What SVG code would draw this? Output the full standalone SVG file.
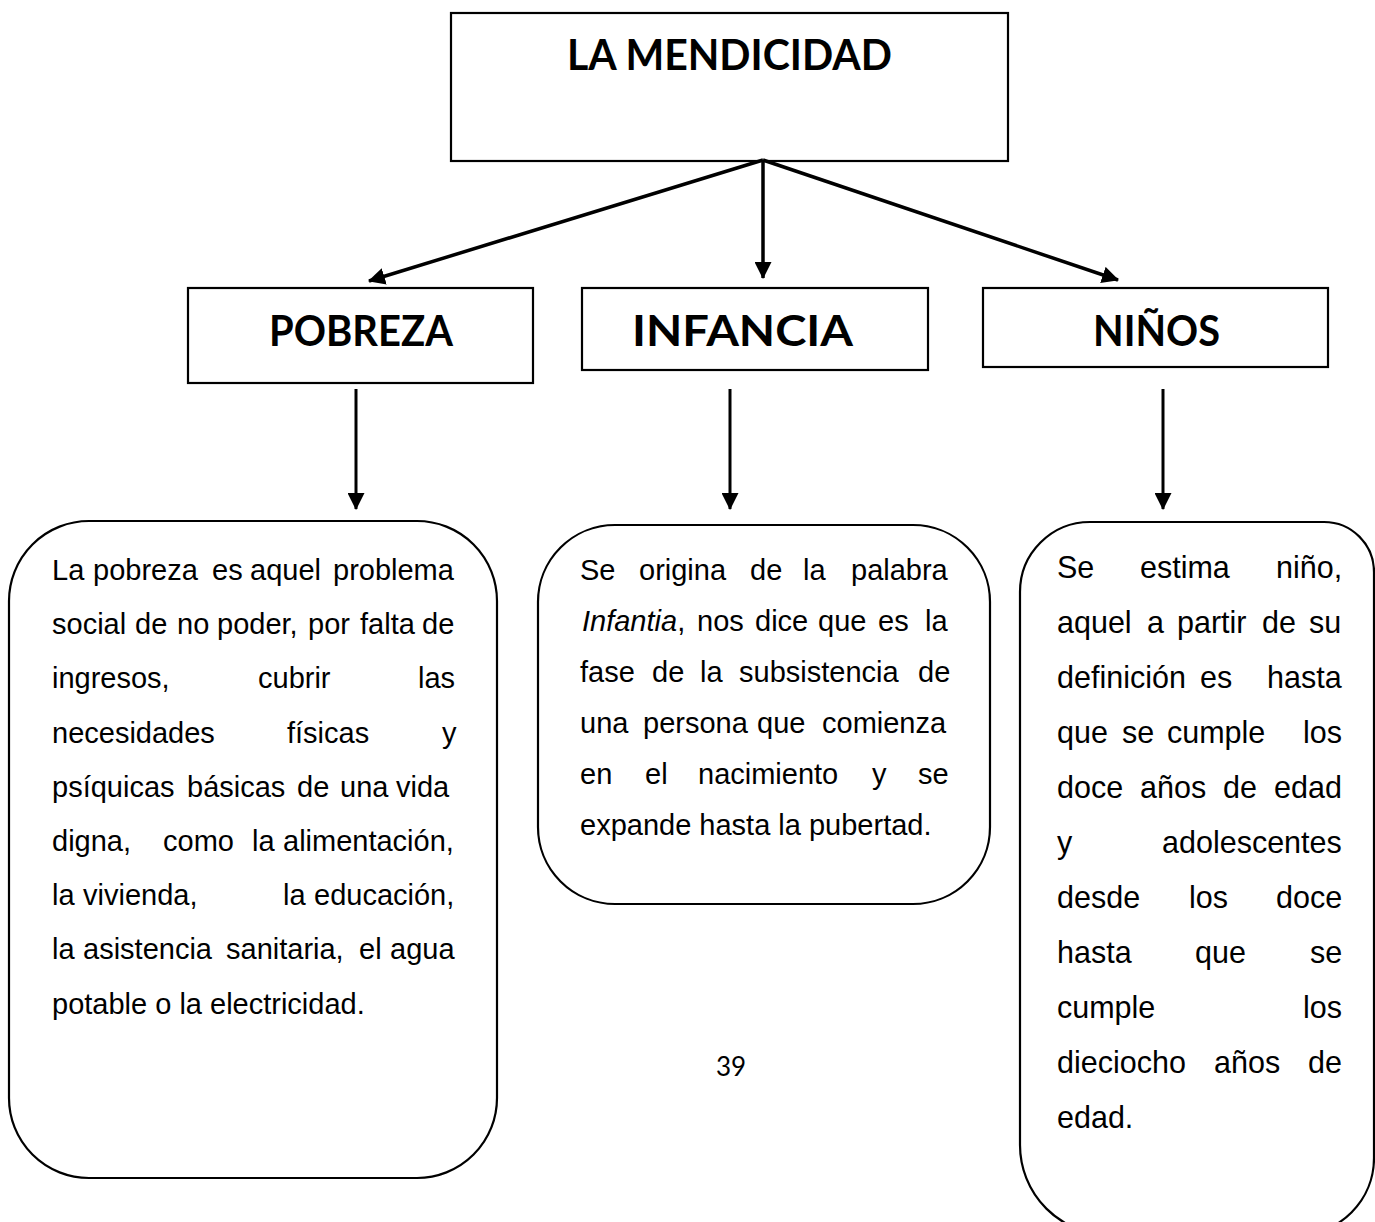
<svg xmlns="http://www.w3.org/2000/svg" width="1375" height="1222" viewBox="0 0 1375 1222">
<style>
.box{fill:#fff;stroke:#000;stroke-width:2.2}
.ttl{font-family:Lato,"Open Sans",sans-serif;font-weight:700;font-size:42px;fill:#000}
.body{font-family:"Liberation Sans",Arial,sans-serif;font-size:29px;fill:#000}
.body3{font-family:"Liberation Sans",Arial,sans-serif;font-size:30.5px;fill:#000}
.conn{stroke:#000;stroke-width:3;fill:none}
.conn.top{stroke-width:3.5}
.pg{font-family:Lato,"Open Sans",sans-serif;font-size:26px;fill:#000}
</style>
<defs>
<marker id="ah" markerUnits="userSpaceOnUse" markerWidth="17" markerHeight="17" viewBox="0 0 16 16" refX="15" refY="8" orient="auto">
<path d="M0,0 L16,8 L0,16 z" fill="#000"/>
</marker>
</defs>
<rect width="1375" height="1222" fill="#fff"/>

<g id="node-mendicidad">
<rect class="box" x="451" y="13" width="557" height="148"/>
<text class="ttl" x="567" y="70" textLength="325" lengthAdjust="spacingAndGlyphs">LA MENDICIDAD</text>
</g>

<g id="node-pobreza">
<rect class="box" x="188" y="288" width="345" height="95"/>
<text class="ttl" x="269" y="346" textLength="184" lengthAdjust="spacingAndGlyphs">POBREZA</text>
</g>

<g id="node-infancia">
<rect class="box" x="582" y="288" width="346" height="82"/>
<text class="ttl" x="632" y="346" textLength="221" lengthAdjust="spacingAndGlyphs">INFANCIA</text>
</g>

<g id="node-ninos">
<rect class="box" x="983" y="288" width="345" height="79"/>
<text class="ttl" x="1093" y="346" textLength="127" lengthAdjust="spacingAndGlyphs">NIÑOS</text>
</g>

<g id="connectors">
<line class="conn top" x1="763" y1="160" x2="369" y2="281" marker-end="url(#ah)"/>
<line class="conn top" x1="763" y1="160" x2="763" y2="278" marker-end="url(#ah)"/>
<line class="conn top" x1="763" y1="160" x2="1118" y2="280" marker-end="url(#ah)"/>
<line class="conn" x1="356" y1="389" x2="356" y2="509" marker-end="url(#ah)"/>
<line class="conn" x1="730" y1="389" x2="730" y2="509" marker-end="url(#ah)"/>
<line class="conn" x1="1163" y1="389" x2="1163" y2="509" marker-end="url(#ah)"/>
</g>

<g id="node-def-pobreza">
<rect class="box" x="9" y="521" width="488" height="657" rx="80" ry="80"/>
<text class="body">
<tspan x="52" y="580">La</tspan><tspan x="93" y="580">pobreza</tspan><tspan x="212" y="580">es</tspan><tspan x="250" y="580">aquel</tspan><tspan x="333" y="580">problema</tspan>
<tspan x="52" y="634">social</tspan><tspan x="135" y="634">de</tspan><tspan x="177" y="634">no</tspan><tspan x="217" y="634">poder,</tspan><tspan x="308" y="634">por</tspan><tspan x="360" y="634">falta</tspan><tspan x="422" y="634">de</tspan>
<tspan x="52" y="688">ingresos,</tspan><tspan x="258" y="688">cubrir</tspan><tspan x="418" y="688">las</tspan>
<tspan x="52" y="743">necesidades</tspan><tspan x="287" y="743">físicas</tspan><tspan x="442" y="743">y</tspan>
<tspan x="52" y="797">psíquicas</tspan><tspan x="187" y="797">básicas</tspan><tspan x="297" y="797">de</tspan><tspan x="340" y="797">una</tspan><tspan x="396" y="797">vida</tspan>
<tspan x="52" y="851">digna,</tspan><tspan x="163" y="851">como</tspan><tspan x="252" y="851">la</tspan><tspan x="283" y="851">alimentación,</tspan>
<tspan x="52" y="905">la</tspan><tspan x="83" y="905">vivienda,</tspan><tspan x="283" y="905">la</tspan><tspan x="314" y="905">educación,</tspan>
<tspan x="52" y="959">la</tspan><tspan x="83" y="959">asistencia</tspan><tspan x="226" y="959">sanitaria,</tspan><tspan x="359" y="959">el</tspan><tspan x="390" y="959">agua</tspan>
<tspan x="52" y="1014">potable o la electricidad.</tspan>
</text>
</g>

<g id="node-def-infancia">
<rect class="box" x="538" y="525" width="452" height="379" rx="77" ry="77"/>
<text class="body">
<tspan x="580" y="580">Se</tspan><tspan x="639" y="580">origina</tspan><tspan x="750" y="580">de</tspan><tspan x="803" y="580">la</tspan><tspan x="851" y="580">palabra</tspan>
<tspan x="582" y="631" font-style="italic">Infantia</tspan><tspan>,</tspan><tspan x="697" y="631">nos</tspan><tspan x="755" y="631">dice</tspan><tspan x="818" y="631">que</tspan><tspan x="878" y="631">es</tspan><tspan x="925" y="631">la</tspan>
<tspan x="580" y="682">fase</tspan><tspan x="652" y="682">de</tspan><tspan x="700" y="682">la</tspan><tspan x="739" y="682">subsistencia</tspan><tspan x="918" y="682">de</tspan>
<tspan x="580" y="733">una</tspan><tspan x="643" y="733">persona</tspan><tspan x="757" y="733">que</tspan><tspan x="822" y="733">comienza</tspan>
<tspan x="580" y="784">en</tspan><tspan x="645" y="784">el</tspan><tspan x="698" y="784">nacimiento</tspan><tspan x="872" y="784">y</tspan><tspan x="918" y="784">se</tspan>
<tspan x="580" y="835">expande hasta la pubertad.</tspan>
</text>
</g>

<g id="node-def-ninos">
<path class="box" d="M1090,522 H1324 A50,50 0 0 1 1374,572 V1158 A77,77 0 0 1 1297,1235 H1110 A90,90 0 0 1 1020,1145 V592 A70,70 0 0 1 1090,522 Z"/>
<text class="body3">
<tspan x="1057" y="578">Se</tspan><tspan x="1140" y="578">estima</tspan><tspan x="1276" y="578">niño,</tspan>
<tspan x="1057" y="633">aquel</tspan><tspan x="1147" y="633">a</tspan><tspan x="1177" y="633">partir</tspan><tspan x="1262" y="633">de</tspan><tspan x="1309" y="633">su</tspan>
<tspan x="1057" y="688">definición</tspan><tspan x="1200" y="688">es</tspan><tspan x="1267" y="688">hasta</tspan>
<tspan x="1057" y="743">que</tspan><tspan x="1122" y="743">se</tspan><tspan x="1167" y="743">cumple</tspan><tspan x="1303" y="743">los</tspan>
<tspan x="1057" y="798">doce</tspan><tspan x="1140" y="798">años</tspan><tspan x="1223" y="798">de</tspan><tspan x="1274" y="798">edad</tspan>
<tspan x="1057" y="853">y</tspan><tspan x="1162" y="853">adolescentes</tspan>
<tspan x="1057" y="908">desde</tspan><tspan x="1189" y="908">los</tspan><tspan x="1276" y="908">doce</tspan>
<tspan x="1057" y="963">hasta</tspan><tspan x="1195" y="963">que</tspan><tspan x="1310" y="963">se</tspan>
<tspan x="1057" y="1018">cumple</tspan><tspan x="1303" y="1018">los</tspan>
<tspan x="1057" y="1073">dieciocho</tspan><tspan x="1214" y="1073">años</tspan><tspan x="1308" y="1073">de</tspan>
<tspan x="1057" y="1128">edad.</tspan>
</text>
</g>

<text class="pg" x="716" y="1076">39</text>
</svg>
